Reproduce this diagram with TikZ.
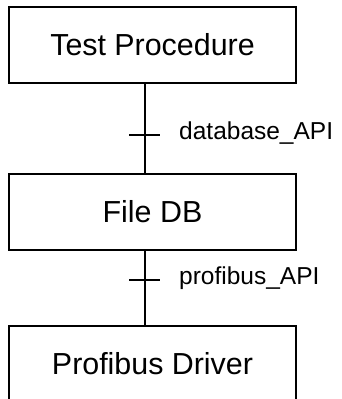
\documentclass[tikz,border=0pt]{standalone}
\usepackage{fontspec}
\setmainfont{Liberation Sans}
\usetikzlibrary{positioning}

\begin{document}
\begin{tikzpicture}[
    x=1pt, y=1pt,
    layer/.style={rectangle, draw=black, line width=1.2pt, align=center, minimum width=287pt, minimum height=76pt, inner sep=0pt, font=\fontsize{30.4}{36}\selectfont},
    iface/.style={anchor=west, inner sep=0pt, font=\fontsize{24.5}{29}\selectfont},
    link/.style={line width=1.3pt},
    tick/.style={line width=1.1pt}
]
\useasboundingbox (0,0) rectangle (342,-399);
\node[layer] (tp) at (152.5,-45) {Test Procedure};
\node[layer] (db) at (152.5,-212) {File DB};
\node[layer] (pd) at (152.5,-364) {Profibus Driver};
% interfaces between layers
\coordinate (api1) at (145,-135);
\coordinate (api2) at (145,-280);
\draw[link] (tp.south -| api1) -- (db.north -| api1);
\draw[link] (db.south -| api2) -- (pd.north -| api2);
\draw[tick] ([xshift=-16pt]api1) -- ([xshift=15pt]api1);
\draw[tick] ([xshift=-16pt]api2) -- ([xshift=15pt]api2);
\node[iface] (l1) at (179,-133) {database\_API};
\node[iface] (l2) at (179,-278) {profibus\_API};
\end{tikzpicture}
\end{document}
